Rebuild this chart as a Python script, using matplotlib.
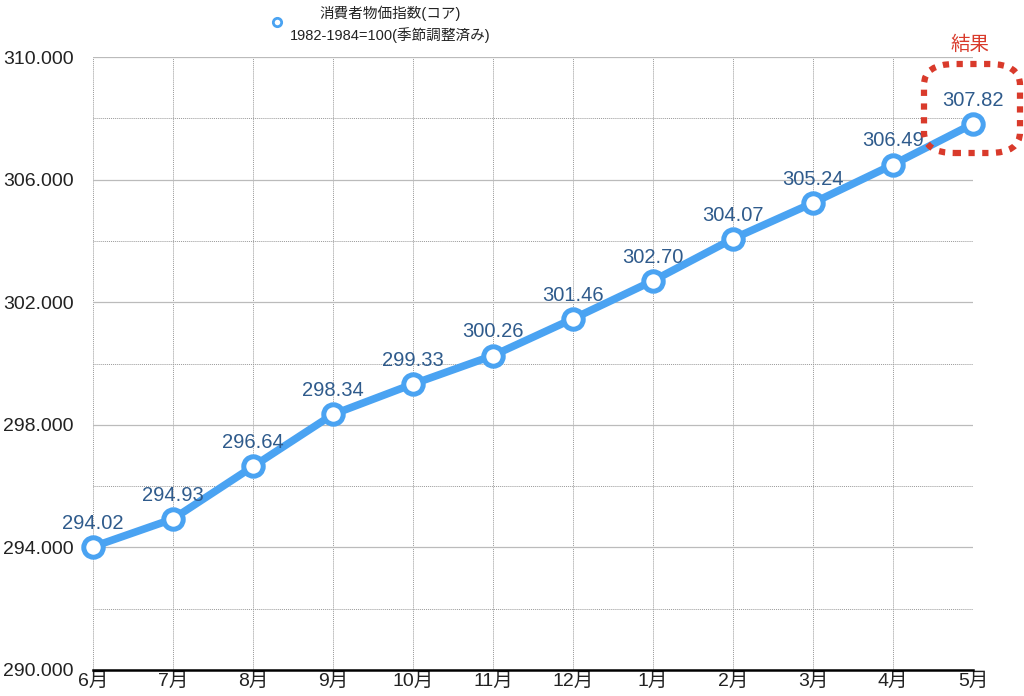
import matplotlib.pyplot as plt
from matplotlib.patches import FancyBboxPatch
from matplotlib.lines import Line2D
from matplotlib.ticker import FormatStrFormatter

plt.rcParams['font.family'] = ['Liberation Sans', 'Noto Sans CJK JP', 'DejaVu Sans']

# データ
months = ['6月', '7月', '8月', '9月', '10月', '11月', '12月', '1月', '2月', '3月', '4月', '5月']
cpi_core = [294.02, 294.93, 296.64, 298.34, 299.33, 300.26, 301.46, 302.70, 304.07, 305.24, 306.49, 307.82]
major_ticks = [290, 294, 298, 302, 306, 310]
minor_ticks = [292, 296, 300, 304, 308]
legend_text = '消費者物価指数(コア)\n1982-1984=100(季節調整済み)'

line_color = '#4aa3f2'
label_color = '#2f5b8c'
red = '#d93a2b'

fig = plt.figure(figsize=(10.24, 6.96), dpi=100)
ax = fig.add_axes([93 / 1024, 1 - 670 / 696, (973 - 93) / 1024, (670 - 57) / 696])

x = list(range(len(months)))
ax.plot(x, cpi_core, color=line_color, linewidth=5.5, marker='o', markersize=14,
        markerfacecolor='white', markeredgecolor=line_color, markeredgewidth=3.6,
        zorder=5, clip_on=False)

# 値ラベル
for xi, v in zip(x, cpi_core):
    ax.annotate(f'{v:.2f}', (xi, v), xytext=(0, 17), textcoords='offset points',
                ha='center', va='center', fontsize=14.5, color=label_color, zorder=6)

ax.set_xlim(0, len(months) - 1)
ax.set_ylim(290, 310)
ax.set_xticks(x)
ax.set_xticklabels(months)
ax.set_yticks(major_ticks)
ax.set_yticks(minor_ticks, minor=True)
ax.yaxis.set_major_formatter(FormatStrFormatter('%.3f'))

# グリッド
ax.grid(True, which='major', axis='y', color='#bbbbbb', linewidth=0.9, linestyle='-')
ax.grid(True, which='minor', axis='y', color='#999999', linewidth=0.7, linestyle=(0, (1, 1)))
ax.grid(True, which='major', axis='x', color='#999999', linewidth=0.7, linestyle=(0, (1, 1)))

for s in ['top', 'right', 'left']:
    ax.spines[s].set_visible(False)
ax.spines['bottom'].set_color('black')
ax.spines['bottom'].set_linewidth(1.8)
ax.tick_params(axis='both', which='both', length=0, labelsize=14, colors='#222222')
ax.tick_params(axis='y', pad=14)
ax.tick_params(axis='x', pad=2)

# 凡例
fig.text(390 / 1024, 1 - 24 / 696, legend_text, ha='center', va='center',
         fontsize=10.5, color='#222222', linespacing=1.45)
fig.add_artist(Line2D([277 / 1024], [1 - 22 / 696], transform=fig.transFigure,
                      marker='o', markersize=6, markerfacecolor='white',
                      markeredgecolor=line_color, markeredgewidth=2))

# 結果 の枠
box = FancyBboxPatch((924 / 1024, 1 - 153 / 696), 96 / 1024, 89 / 696,
                     boxstyle='round,pad=0,rounding_size=0.03',
                     transform=fig.transFigure, fill=False, edgecolor=red,
                     linewidth=4.5, linestyle=(0, (1, 1.2)), capstyle='butt', zorder=10)
fig.add_artist(box)
fig.text(970 / 1024, 1 - 45 / 696, '結果', ha='center', va='center',
         fontsize=14, color=red)

plt.savefig('out.png', dpi=100)
